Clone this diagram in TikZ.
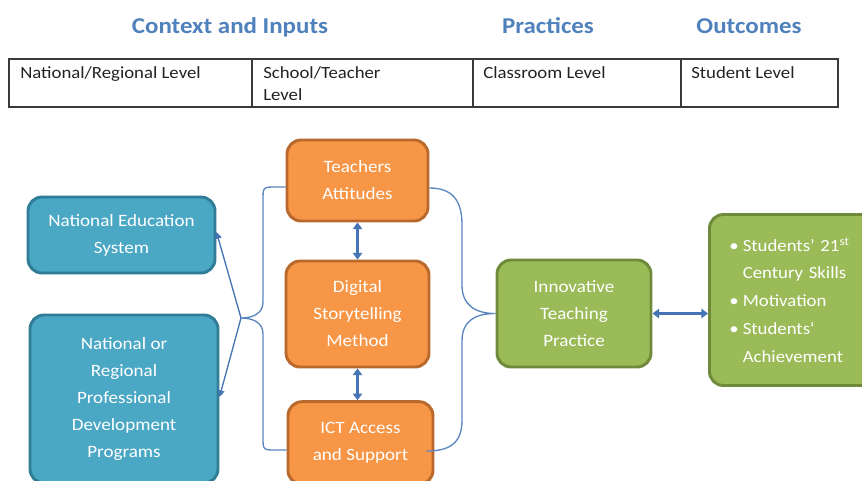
\documentclass[tikz,border=0pt]{standalone}
\usepackage{fontspec}
\setmainfont[FakeStretch=1.1]{Carlito}
\usetikzlibrary{arrows.meta,calc}

\definecolor{headblue}{HTML}{4F81BD}
\definecolor{linkblue}{HTML}{5B86C0}
\definecolor{arrowblue}{HTML}{4674B4}
\definecolor{bluefill}{HTML}{4AA8C5}
\definecolor{blueedge}{HTML}{2F7D96}
\definecolor{orangefill}{HTML}{F79646}
\definecolor{orangeedge}{HTML}{B9692C}
\definecolor{greenfill}{HTML}{9BBB59}
\definecolor{greenedge}{HTML}{6E8A3A}
\definecolor{gridline}{HTML}{3A3A3A}
\definecolor{celltext}{HTML}{222222}

\newcommand{\outbullet}{\textbullet\hspace{3pt}}
\newcommand{\outindent}{\hphantom{\textbullet\hspace{3pt}}}

\begin{document}
\begin{tikzpicture}[
  x=0.75pt, y=-0.75pt,
  box/.style={rounded corners=10.5pt, line width=2.2pt, text=white,
    align=center, inner sep=0pt,
    font=\fontsize{13}{20.25}\selectfont},
  bluebox/.style={box, fill=bluefill, draw=blueedge},
  orangebox/.style={box, fill=orangefill, draw=orangeedge},
  greenbox/.style={box, fill=greenfill, draw=greenedge},
  heading/.style={anchor=base, inner sep=0pt, text=headblue,
    font=\fontsize{17}{20}\selectfont\bfseries},
  cell/.style={anchor=base west, inner sep=0pt, text=celltext,
    font=\fontsize{12.8}{16.5}\selectfont},
  brace/.style={draw=linkblue, line width=1pt},
  thinarrow/.style={draw=linkblue, line width=1pt,
    -{Triangle[length=5pt,width=5pt]}, arrowblue},
  dblarrow/.style={draw=arrowblue, line width=1.8pt,
    {Triangle[length=5pt,width=7pt]}-{Triangle[length=5pt,width=7pt]}}
]
\useasboundingbox (0,0) rectangle (862,480);
\clip (0,0) rectangle (862,480);

% column headings
\node[heading] (hctx) at (230,33) {Context and Inputs};
\node[heading] (hprac) at (548,33) {Practices};
\node[heading] (hout) at (749,33) {Outcomes};

% level table
\draw[draw=gridline, line width=1.1pt] (9,59) rectangle (838,107);
\draw[draw=gridline, line width=1.1pt] (252,59) -- (252,107)
  (473,59) -- (473,107) (681,59) -- (681,107);
\node[cell] (cnat) at (20,78) {National/Regional Level};
\node[cell] (csch) at (263,78) {\vtop{\baselineskip=16.5pt\hbox{School/Teacher}\hbox{Level}}};
\node[cell] (ccls) at (483,78) {Classroom Level};
\node[cell] (cstu) at (691,78) {Student Level};

% context boxes
\node[bluebox, minimum width=140.25pt, minimum height=57pt] (nes) at (121.5,235)
  {National Education\\System};
\node[bluebox, minimum width=141pt, minimum height=126pt] (nrpd) at (124,399)
  {National or\\Regional\\Professional\\Development\\Programs};

% school / teacher boxes
\node[orangebox, minimum width=105.75pt, minimum height=60.75pt] (teach) at (357.5,180.5)
  {Teachers\\Attitudes};
\node[orangebox, minimum width=107.25pt, minimum height=79.5pt] (dst) at (357.5,314)
  {Digital\\Storytelling\\Method};
\node[orangebox, minimum width=108.75pt, minimum height=62pt] (ict) at (360.5,443)
  {ICT Access\\and Support};

% practice and outcome boxes
\node[greenbox, minimum width=115.5pt, minimum height=80.25pt] (itp) at (574,313.5)
  {Innovative\\Teaching\\Practice};
\node[greenbox, anchor=west, minimum height=128.25pt, text width=100pt,
  inner xsep=15pt, align=left, font=\fontsize{12.8}{20.8}\selectfont] (outc) at (708,300)
  {\outbullet Students’ 21\textsuperscript{st}\\
   \outindent Century Skills\\
   \outbullet Motivation\\
   \outbullet Students‘\\
   \outindent Achievement};

% left brace gathering the school level boxes
\coordinate (tipL) at (241,318);
\draw[brace] ($(teach.west)+(0,6.5)$) -- (276,187) .. controls (263,187) .. (263,200)
  -- (263,302) .. controls (263,314) and (252,318) .. (tipL)
  .. controls (252,318) and (263,322) .. (263,334)
  -- (263,437) .. controls (263,450) .. (276,450) -- ($(ict.west)+(0,7)$);
\draw[thinarrow] (tipL) -- ($(nes.east)+(0,-3)$);
\draw[thinarrow] (tipL) -- ($(nrpd.east)+(0,-2)$);

% right brace into the teaching practice
\draw[brace] ($(teach.east)+(0,7.5)$) .. controls (452,188) and (462,200) .. (462,225)
  -- (462,285) .. controls (462,305) and (475,313.5) .. (itp.west)
  .. controls (475,313.5) and (462,321) .. (462,341)
  -- (462,420) .. controls (462,443) and (450,451) .. ($(ict.east)+(-8,8)$);

% two-way links
\draw[dblarrow] (teach.south) -- (dst.north);
\draw[dblarrow] (dst.south) -- (dst.south |- ict.north);
\draw[dblarrow] (itp.east) -- (itp.east -| outc.west);
\end{tikzpicture}
\end{document}
